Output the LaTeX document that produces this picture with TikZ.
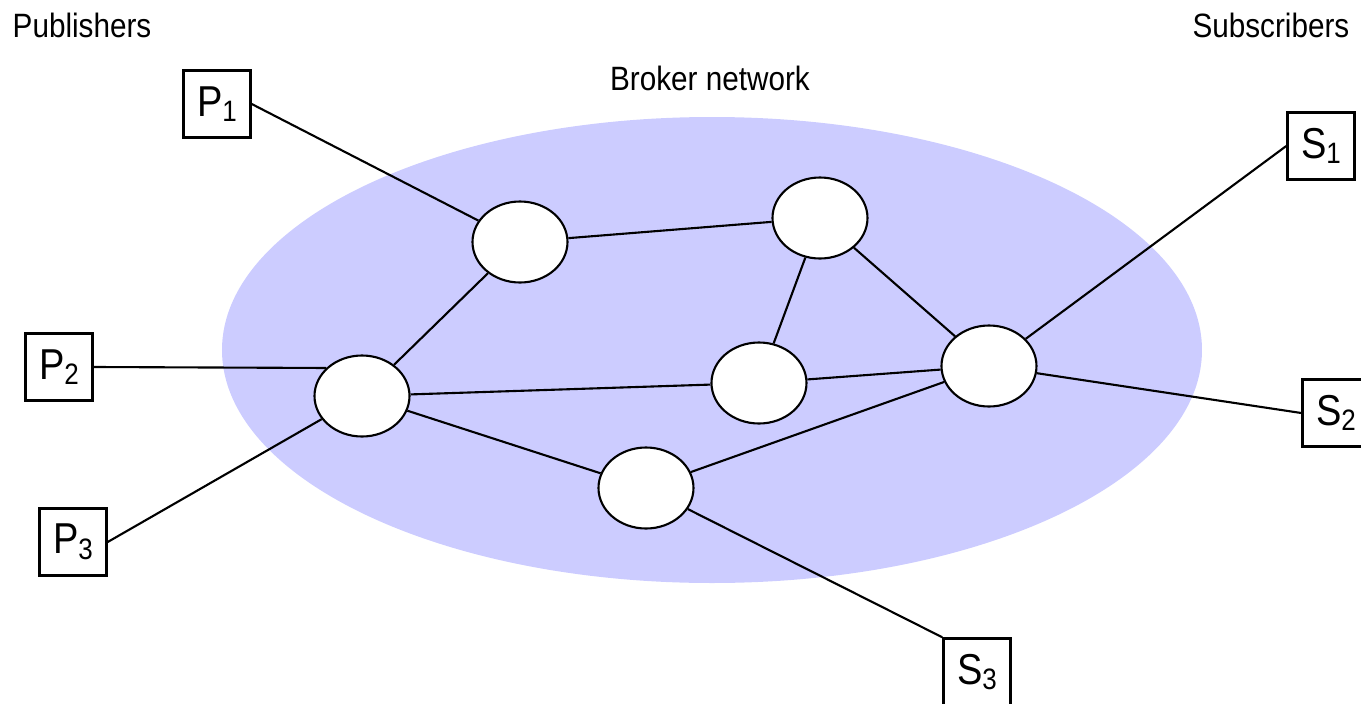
\documentclass[tikz,border=0pt]{standalone}
\usepackage{fontspec}
\setmainfont{Liberation Sans}[FakeStretch=0.88]
\usetikzlibrary{shapes.geometric}

% label with a lowered index, e.g. P_1
\newcommand{\boxlbl}[2]{#1\raisebox{-1.6pt}{\fontsize{8.4}{9}\selectfont #2}}

\begin{document}
\begin{tikzpicture}[x=1cm,y=-1cm]

    % Colours
    \definecolor{netcol}{RGB}{204,204,255}

    % Common styles
    \tikzset{
        broker/.style={ellipse, draw, fill=white, line width=0.6pt,
            minimum width=0.95cm, minimum height=0.81cm, inner sep=0pt},
        client/.style={rectangle, draw, line width=0.7pt,
            minimum width=0.67cm, minimum height=0.67cm, inner sep=0pt,
            font=\fontsize{12.3}{13}\selectfont},
        link/.style={line width=0.6pt},
        title/.style={font=\fontsize{9.6}{11}\selectfont, anchor=base}
    }

    \useasboundingbox (0,0) rectangle (13.61,7.04);

    % ================== Broker network cloud ==================
    \fill[netcol] (7.12,3.50) ellipse (4.90cm and 2.33cm);
    \node[title] (nettitle) at (7.10,0.90) {Broker network};

    % ===================== Headings ===========================
    \node[title, anchor=base west, inner sep=0pt] (pubtitle) at (0.12,0.37) {Publishers};
    \node[title, anchor=base east, inner sep=0pt] (subtitle) at (13.50,0.37) {Subscribers};

    % ===================== Brokers ============================
    \node[broker] (b1) at (5.20,2.42) {};
    \node[broker] (b2) at (8.20,2.18) {};
    \node[broker] (b3) at (3.62,3.96) {};
    \node[broker] (b4) at (7.59,3.83) {};
    \node[broker] (b5) at (9.89,3.66) {};
    \node[broker] (b6) at (6.46,4.88) {};

    % ================ Publishers / subscribers ================
    \node[client] (p1) at (2.17,1.04) {\boxlbl{P}{1}};
    \node[client] (p2) at (0.59,3.67) {\boxlbl{P}{2}};
    \node[client] (p3) at (0.73,5.42) {\boxlbl{P}{3}};
    \node[client] (s1) at (13.21,1.46) {\boxlbl{S}{1}};
    \node[client] (s2) at (13.36,4.13) {\boxlbl{S}{2}};
    \node[client] (s3) at (9.77,6.72) {\boxlbl{S}{3}};

    % ===================== Connections ========================
    \draw[link] (p1.east) -- (b1);
    \draw[link] (p2.east) -- (b3.142);
    \draw[link] (p3.east) -- (b3);
    \draw[link] (b1) -- (b2);
    \draw[link] (b1) -- (b3);
    \draw[link] (b3) -- (b4);
    \draw[link] (b3) -- (b6);
    \draw[link] (b2) -- (b4);
    \draw[link] (b2) -- (b5);
    \draw[link] (b4) -- (b5);
    \draw[link] (b6) -- (b5);
    \draw[link] (b5) -- (s1.west);
    \draw[link] (b5) -- (s2.west);
    \draw[link] (b6) -- (s3.north west);

\end{tikzpicture}
\end{document}
